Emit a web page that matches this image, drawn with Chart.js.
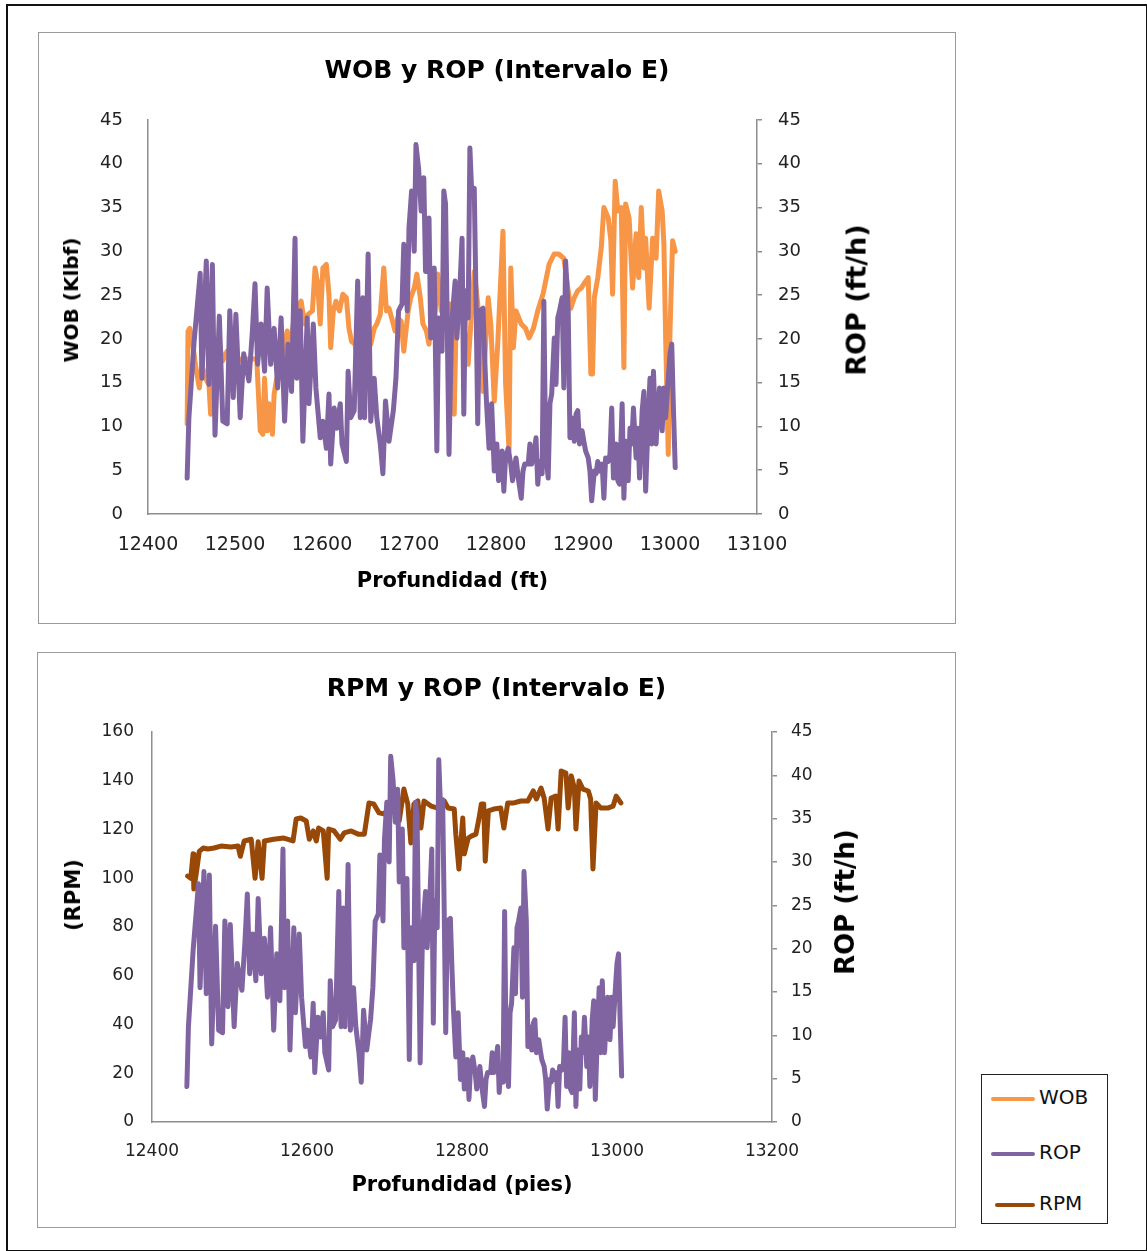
<!DOCTYPE html>
<html>
<head>
<meta charset="utf-8">
<script src="https://cdn.jsdelivr.net/npm/chart.js@4.4.1/dist/chart.umd.min.js"></script>
<style>
  body{margin:0;background:#fff;font-family:'DejaVu Sans',sans-serif;}
  #frame{position:absolute;left:6px;top:4px;width:1138px;height:1244px;border:2px solid #111;}
  .box{position:absolute;border:1.5px solid #9a9a9a;background:#fff;}
  #legend{position:absolute;left:981px;top:1074px;width:125px;height:148px;border:1.5px solid #222;}
  .lg{position:absolute;left:9px;font-size:20px;color:#111;}
  .lg span{display:inline-block;width:44px;height:4px;border-radius:2px;vertical-align:middle;margin-right:4px;}
  .vt{position:absolute;white-space:nowrap;font-weight:bold;color:#000;transform:translate(-50%,-50%) rotate(-90deg);}
</style>
</head>
<body>
<div id="frame"></div>
<div class="box" style="left:38px;top:32px;width:916px;height:590px;"><canvas id="wobChart"></canvas></div>
<div class="box" style="left:37px;top:652px;width:917px;height:574px;"><canvas id="rpmChart"></canvas></div>
<div class="vt" style="left:71px;top:300px;font-size:20px;">WOB (Klbf)</div>
<div class="vt" style="left:856px;top:300px;font-size:27px;">ROP (ft/h)</div>
<div class="vt" style="left:73px;top:895px;font-size:21px;">(RPM)</div>
<div class="vt" style="left:845px;top:902px;font-size:26px;">ROP (ft/h)</div>
<div id="legend">
  <div class="lg" style="top:10px;"><span style="background:#f79646"></span>WOB</div>
  <div class="lg" style="top:65px;"><span style="background:#8064a2"></span>ROP</div>
  <div class="lg" style="top:116px;"><span style="background:#984807;margin-left:4px;width:40px"></span>RPM</div>
</div>
<script>
// ROP (ft/h) vs depth (ft)
const ropDepth=[12445,12447,12453,12460,12462,12467,12470,12474,12477,12482,12486,12491,12494,12498,12501,12506,12510,12516,12520,12523,12526,12530,12534,12537,12541,12545,12549,12553,12557,12561,12565,12569,12571,12575,12578,12583,12585,12590,12593,12598,12601,12605,12608,12610,12614,12617,12621,12623,12628,12630,12633,12637,12641,12644,12647,12649,12653,12656,12660,12663,12667,12670,12673,12677,12682,12685,12688,12692,12694,12698,12700,12703,12706,12708,12711,12714,12717,12719,12723,12725,12729,12732,12734,12738,12740,12742,12746,12749,12753,12755,12758,12761,12763,12765,12768,12770,12772,12775,12777,12779,12781,12785,12787,12789,12792,12795,12798,12801,12803,12807,12809,12811,12814,12817,12819,12823,12826,12829,12831,12833,12837,12839,12841,12844,12846,12848,12850,12853,12855,12857,12860,12862,12864,12867,12869,12871,12873,12876,12878,12880,12883,12885,12887,12890,12892,12894,12896,12899,12901,12903,12906,12908,12910,12913,12915,12917,12919,12922,12924,12926,12929,12931,12933,12935,12938,12940,12942,12945,12947,12949,12952,12954,12956,12958,12961,12963,12965,12968,12970,12972,12975,12977,12979,12981,12984,12986,12988,12991,12993,12995,12998,13000,13002,13004,13006];
const ropVals=[4.1,11,19.7,27.5,15.5,28.9,14.8,28.5,9,22.6,10.6,10.3,23.2,13.3,22.8,11,18.3,15.2,20.9,26.3,17.1,21.7,16.3,25.8,17.1,21.2,14.4,22.4,10.6,19.4,14,31.5,15.5,23.2,8.3,22.4,12.6,21.7,14.4,8.7,10.6,7.5,13.7,5.7,12.1,9.8,12.6,8,6,16.3,11,11.8,26.6,11,24.7,11,29.7,10.6,15.5,11,8,4.6,12.9,8.3,11.8,15.5,23.2,24,30.8,23.2,32.7,36.9,30,42.2,39.5,34.6,38.4,27.7,33.8,20.1,28.1,7.2,22.4,18.6,36.9,35.4,6.8,21.7,26.6,20.1,24.7,31.5,11.4,25.5,22.4,41.8,36.9,37.2,24.7,10.3,23.2,23.5,17.8,12.9,7.5,12.6,4.9,8,3.8,7.2,2.6,6.4,7.5,5.7,3.8,6.4,3.8,1.8,4.9,5.7,5.7,8,5.7,7.2,8.7,3.4,6,4.6,24.3,7.2,4.1,12.6,13.7,20.1,14.8,22.4,23.2,24.7,14.4,28.9,23.2,8.7,11,8.3,11.4,11.8,8,9.5,8.3,7.2,6.4,4.9,1.5,4.9,4.6,6,4.9,5.7,1.8,6.4,6,6.8,12.1,4.1,8,3.8,3.4,12.6,1.8,8.3,3.8,9.8,8,12.1,6.4,9.8,4.1,11.8,14,2.6,11,15.5,8,16.3,8,11.8,14.4,9.5,14.4,11,15.5,18.3,19.4,11.8,5.3];

// WOB (Klbf) vs depth (ft)
const wobDepth=[12445,12446,12448,12451,12455,12459,12462,12466,12470,12472,12476,12482,12486,12491,12498,12507,12516,12525,12529,12532,12534,12537,12539,12543,12545,12548,12552,12555,12560,12563,12567,12571,12576,12580,12584,12589,12592,12595,12598,12601,12605,12608,12610,12613,12616,12620,12624,12628,12631,12634,12638,12641,12645,12648,12652,12656,12660,12663,12667,12671,12674,12677,12680,12684,12687,12691,12694,12699,12702,12706,12709,12713,12716,12720,12723,12725,12730,12733,12737,12740,12744,12747,12752,12754,12760,12768,12775,12779,12785,12791,12794,12798,12802,12808,12811,12815,12817,12820,12823,12829,12834,12838,12843,12848,12854,12861,12867,12872,12878,12883,12886,12890,12894,12898,12901,12906,12909,12911,12913,12917,12921,12924,12929,12932,12934,12937,12940,12944,12947,12949,12953,12957,12961,12964,12967,12970,12972,12976,12980,12984,12987,12991,12993,12995,12998,13000,13003,13006];
const wobVals=[10.3,20.9,21.2,19.7,16.7,14.4,17.1,15.5,14.8,11.4,15.5,19.4,17.5,18.6,17.1,17.7,17.7,17.7,9.5,9.1,15.5,9.5,12.6,9.1,13.7,15.5,15.5,18.3,20.9,18.6,21.7,23.5,24.3,21.7,22.8,23.2,28.1,26.3,21.7,28.1,28.5,25.1,19,23.2,24.3,23.2,25.1,24.7,21.2,19.7,19.4,17.1,19.7,17.8,20.5,19.4,21.2,21.7,22.8,28.1,23.2,23.5,22.4,20.9,22.4,22,18.6,23.2,24.7,25.8,27.4,24.7,21.7,20.9,19.4,21.7,23.2,27.4,23.2,24,21.7,24,11.4,21.2,24.7,17.1,27.7,24,14,24.7,21.7,12.9,19.4,32.3,15,7.2,28.1,19,23.2,21.7,21.2,20.1,21.2,23.2,25.1,28.5,29.7,29.7,29.2,25.5,23.5,24.7,25.5,25.8,26.3,27,16,16,24.7,27,30.4,35,33.8,31.2,25.1,38,34.6,35,16.7,35.4,33.8,25.8,32,27,35,28.1,31.5,23.5,31.5,29.2,36.9,34.6,30.8,20.1,6.8,20.9,31.2,30];

// RPM vs depth (ft)
const rpmDepth=[12446,12450,12453,12454,12457,12461,12466,12472,12480,12489,12502,12511,12514,12519,12528,12533,12537,12542,12545,12557,12570,12582,12586,12592,12599,12603,12608,12612,12615,12621,12626,12628,12635,12643,12648,12657,12666,12674,12680,12686,12693,12699,12706,12712,12719,12725,12730,12734,12738,12743,12747,12751,12760,12769,12777,12782,12790,12792,12796,12801,12803,12808,12812,12818,12822,12825,12828,12830,12834,12841,12850,12854,12859,12867,12876,12885,12892,12896,12902,12906,12911,12915,12921,12924,12928,12934,12937,12941,12945,12947,12951,12956,12963,12966,12969,12973,12979,12988,12995,12999,13005];
const rpmVals=[100.9,100,110,95.6,101.7,111,112.4,112,112.4,113.2,112.8,113.2,109,115.3,116,100,115,100,115.3,116,116.5,115.3,124.3,124.7,123.5,116,119.4,115.3,120.6,119.4,100,120.2,119.4,116,118.6,119.4,118.1,118.1,130.9,130.5,126.8,126.4,128.4,128.8,123.5,136.6,130.5,114.5,130.5,131.7,120.6,131.7,129.6,128.8,131.7,128.8,128.4,118.1,103.8,124.7,110,116.5,117.3,118.1,124.7,130.5,130.5,107,127.6,128.4,128.8,120.6,130.9,130.9,131.7,131.7,135.8,132.5,137,132.9,120.2,132.9,133.7,120.2,144,143.2,128.8,142,137,120.2,139.9,136.6,135.8,132.5,103.8,130.9,128.8,128.8,129.6,133.7,130.9];

const ropColor='#8064a2', wobColor='#f79646', rpmColor='#984807';
const axisGray='#8e8e8e';

Chart.defaults.font.family="'DejaVu Sans', sans-serif";
Chart.defaults.color='#222';

function pts(xs,ys){ return xs.map((d,i)=>({x:d,y:ys[i]})); }
function line(label,xs,ys,color,axis){
  return {label:label,data:pts(xs,ys),borderColor:color,backgroundColor:color,borderWidth:5,pointRadius:0,tension:0,yAxisID:axis,borderJoinStyle:'round',borderCapStyle:'round'};
}

function makeChart(id,cfg){
  return new Chart(document.getElementById(id).getContext('2d'),{
    type:'line',
    data:{datasets:cfg.datasets},
    options:{
      responsive:true,maintainAspectRatio:false,animation:false,
      layout:{padding:0,autoPadding:false},
      plugins:{legend:{display:false},tooltip:{enabled:false},
        title:{display:true,text:cfg.title,color:'#000',font:{size:25,weight:'bold'},padding:cfg.titlePad}},
      scales:{
        x:{type:'linear',min:cfg.xMin,max:cfg.xMax,
          ticks:{stepSize:cfg.xStep,font:{size:cfg.xFont},color:'#222',padding:cfg.xPad,maxRotation:0,callback:v=>String(v)},
          grid:{display:false,drawTicks:false},border:{display:true,color:axisGray,width:1.5},
          title:{display:true,text:cfg.xTitle,color:'#000',font:{size:21,weight:'bold'},padding:{top:0,bottom:29}},
          afterFit:s=>{s.height=cfg.xH;}},
        y:{position:'left',min:0,max:cfg.yMax,
          ticks:{stepSize:cfg.yStep,font:{size:cfg.yFont},color:'#222',padding:cfg.yPad},
          grid:{display:false,drawTicks:false},border:{display:true,color:axisGray,width:1.5},
          afterFit:s=>{s.width=cfg.yW;}},
        y2:{position:'right',min:0,max:45,
          ticks:{stepSize:5,font:{size:cfg.yFont},color:'#222',padding:cfg.y2Pad},
          grid:{display:true,drawOnChartArea:false,drawTicks:true,tickLength:5,color:axisGray,lineWidth:1.5},
          border:{display:true,color:axisGray,width:1.5},
          afterFit:s=>{s.width=cfg.y2W;}}
      }
    }
  });
}

makeChart('wobChart',{
  title:'WOB y ROP (Intervalo E)',titlePad:{top:23,bottom:34},
  datasets:[line('ROP',ropDepth,ropVals,ropColor,'y2'),line('WOB',wobDepth,wobVals,wobColor,'y')],
  xMin:12400,xMax:13100,xStep:100,xFont:19,xPad:20,xTitle:'Profundidad (ft)',xH:109,
  yMax:45,yStep:5,yFont:18,yPad:25,yW:109,
  y2Pad:16,y2W:198
});

makeChart('rpmChart',{
  title:'RPM y ROP (Intervalo E)',titlePad:{top:21,bottom:28},
  datasets:[line('ROP',ropDepth,ropVals,ropColor,'y2'),line('RPM',rpmDepth,rpmVals,rpmColor,'y')],
  xMin:12400,xMax:13200,xStep:200,xFont:17,xPad:19,xTitle:'Profundidad (pies)',xH:105,
  yMax:160,yStep:20,yFont:17,yPad:18,yW:114,
  y2Pad:14,y2W:183
});
</script>
</body>
</html>
